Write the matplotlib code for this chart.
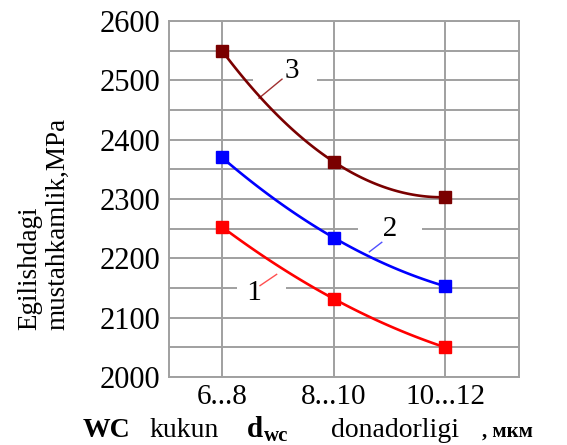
import numpy as np
import matplotlib
matplotlib.use("Agg")
import matplotlib.pyplot as plt
from matplotlib.ticker import MultipleLocator

# === Data ===
sizes = ["6...8", "8...10", "10...12"]
curve_1 = [2253, 2132, 2050]
curve_2 = [2370, 2235, 2153]
curve_3 = [2550, 2363, 2303]

plt.rcParams['font.family'] = ['Liberation Serif', 'DejaVu Serif']

fig = plt.figure(figsize=(5.67, 4.45), dpi=100)
ax = fig.add_axes([0.298, 0.1528, 0.617, 0.800])

x = np.arange(len(sizes))
xs = np.linspace(0, len(sizes) - 1, 100)


def smooth(vals):
    # parabola through the three points, just for a smooth drawn line
    c = np.polyfit(x, vals, 2)
    return np.polyval(c, xs)


series = [(curve_1, "#ff0000"), (curve_2, "#0000ff"), (curve_3, "#7a0000")]
for vals, col in series:
    ax.plot(xs, smooth(vals), color=col, lw=1.9, zorder=3)
    ax.plot(x, vals, ls="none", marker="s", ms=8.5, color=col, zorder=4)

# curve numbers: white box breaks the grid, thin leader to the curve
labels = [(" 1   ", (0.161, 2141), [(0.341, 2154), (0.49, 2173)], "#ff5050"),
          ("   2   ", (1.247, 2249), [(1.432, 2227), (1.321, 2211)], "#5050ff"),
          ("    3  ", (0.305, 2516), [(0.538, 2502), (0.332, 2470)], "#a03030")]
for txt, pos, lead, col in labels:
    ax.text(pos[0], pos[1], txt, fontsize=21, ha="left", va="center",
            bbox=dict(boxstyle="square,pad=0.1", fc="white", ec="none"),
            zorder=2)
    (x0, y0), (x1, y1) = lead
    ax.plot([x0, x1], [y0, y1], color=col, lw=1.0, zorder=2.5)

ax.set_xlim(-0.475, 2.66)
ax.set_ylim(2000, 2600)
ax.set_xticks(x)
ax.set_xticklabels(sizes)
ax.yaxis.set_major_locator(MultipleLocator(100))
ax.yaxis.set_minor_locator(MultipleLocator(50))
ax.grid(True, which="both", color="#a0a0a0", lw=1.4, zorder=0)
ax.tick_params(which="both", length=0)
ax.tick_params(axis="y", labelsize=22, pad=6)
ax.tick_params(axis="x", labelsize=21, pad=5)
for s in ax.spines.values():
    s.set_color("#a0a0a0")
    s.set_linewidth(1.4)

# y label (two lines, rotated)
fig.text(0.077, 1 - 330 / 445, "Egilishdagi\nmustahkamlik,MPa", rotation=90,
         fontsize=19.5, ha="center", va="bottom", multialignment="left",
         linespacing=1.15)

# x label built from pieces
yb = 1 - 437 / 445
fig.text(83 / 567, yb, "WC", fontsize=20, va="baseline", fontweight="bold")
fig.text(150 / 567, yb, "kukun", fontsize=20, va="baseline")
fig.text(247 / 567, yb, "d", fontsize=21, va="baseline", fontweight="bold")
fig.text(264 / 567, yb - 4 / 445, "wc", fontsize=15, va="baseline",
         fontweight="bold")
fig.text(331 / 567, yb, "donadorligi", fontsize=20, va="baseline")
fig.text(482 / 567, yb, ", мкм", fontsize=15, va="baseline",
         fontweight="bold")

fig.savefig("out.png", dpi=100)
